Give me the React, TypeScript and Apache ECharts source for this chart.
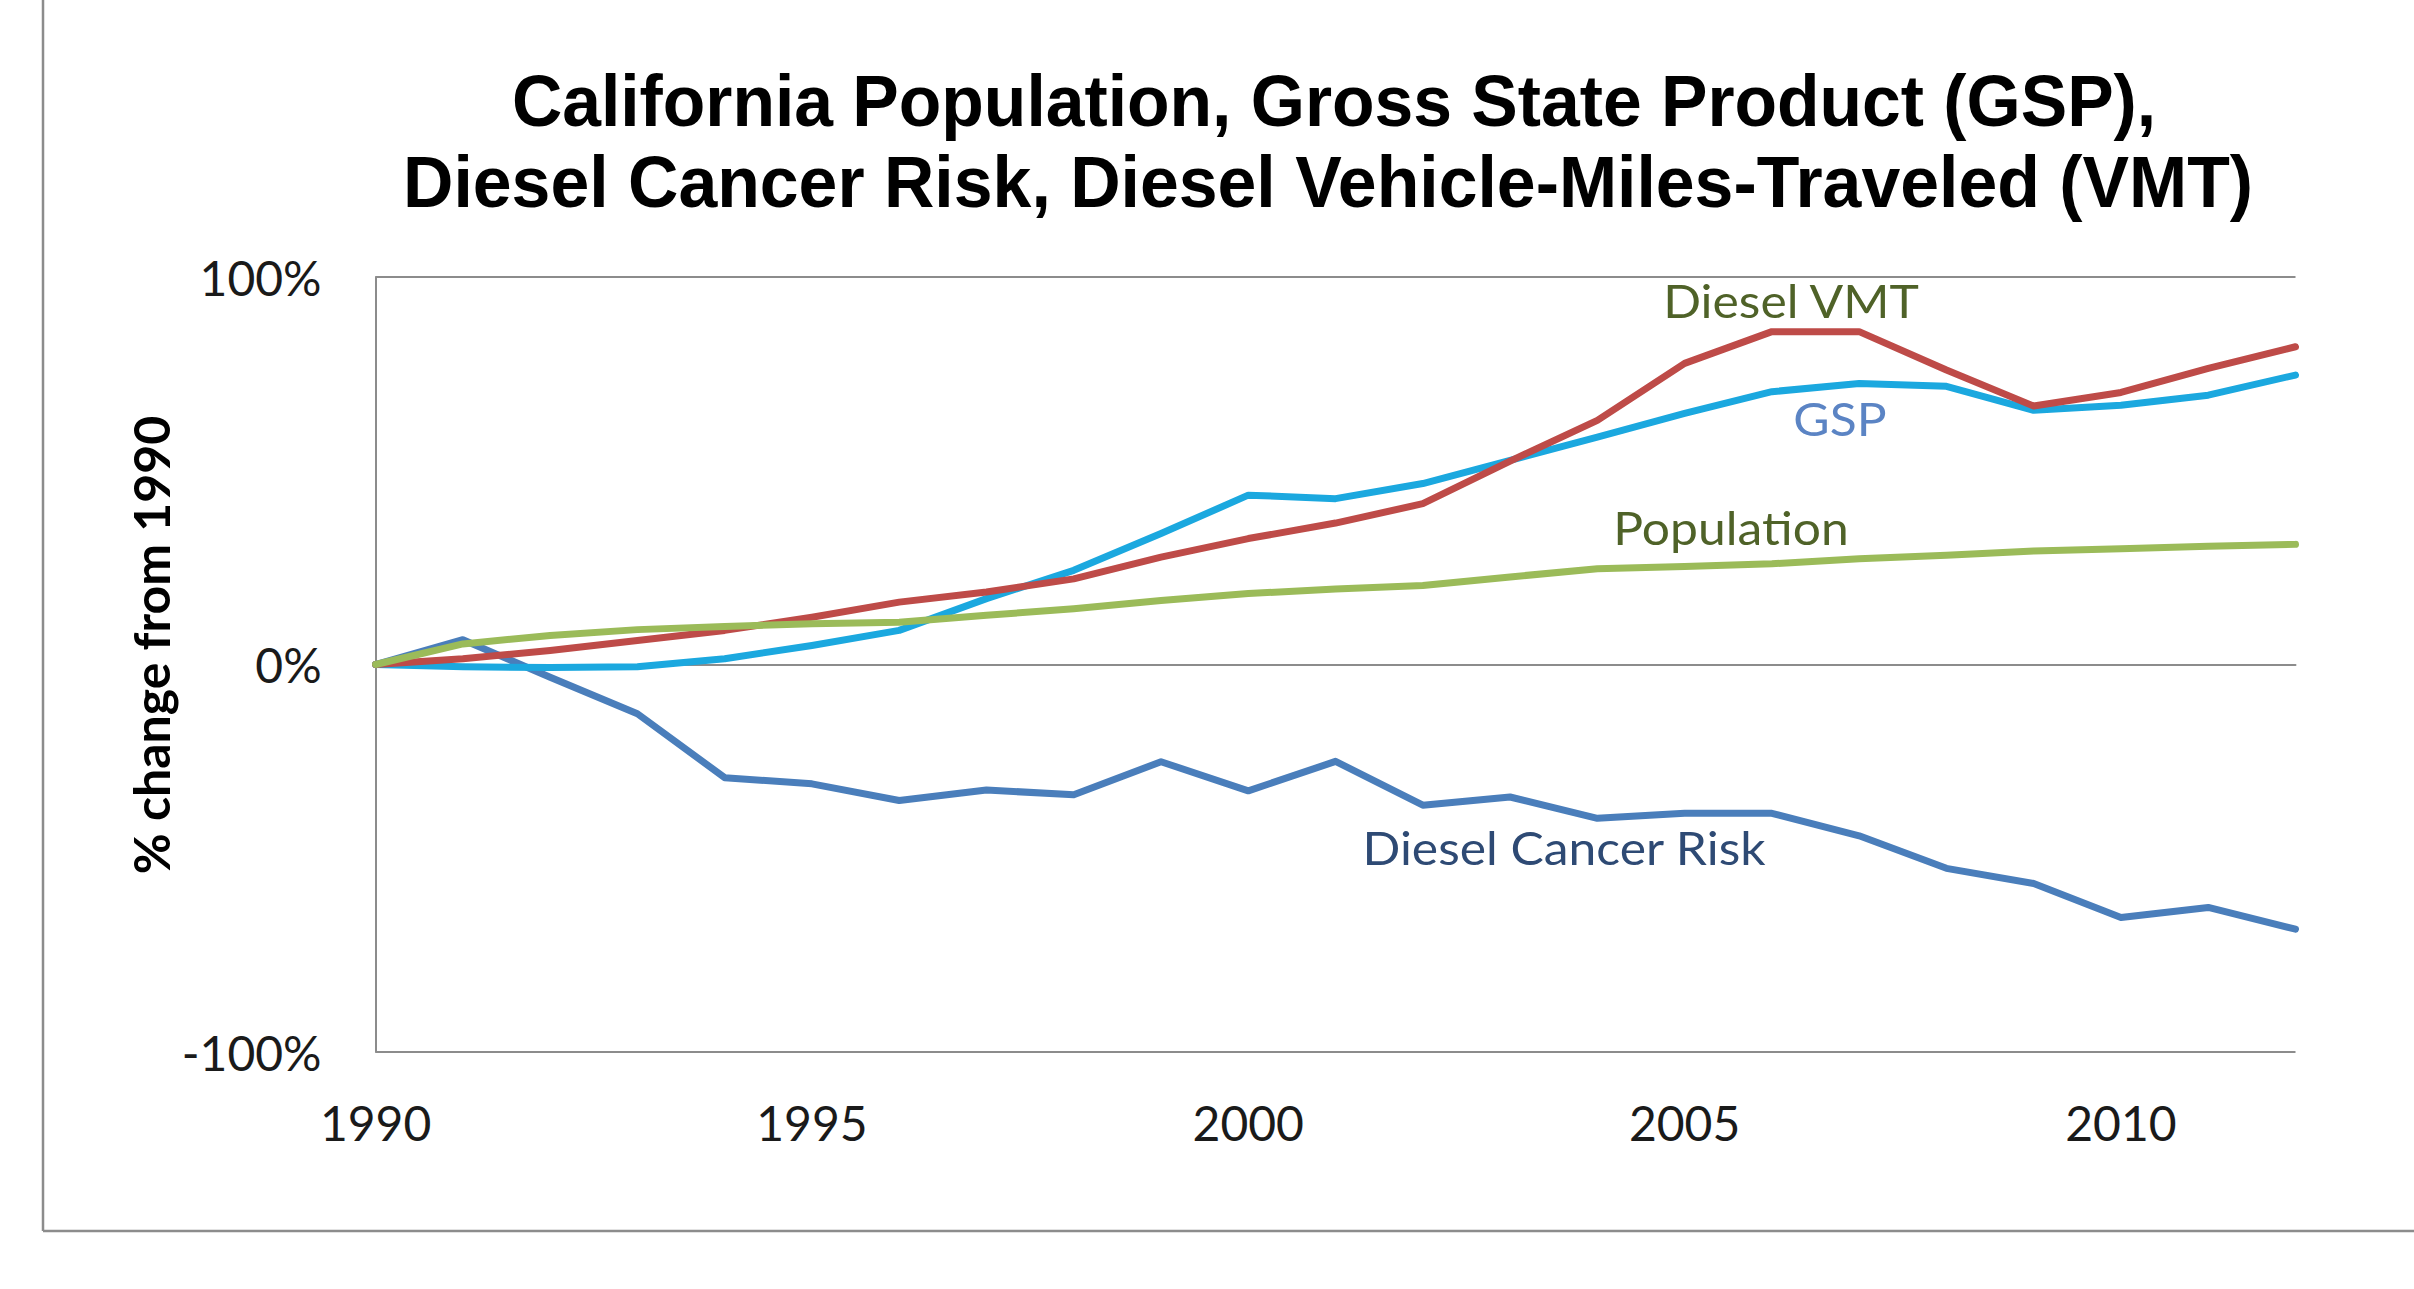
import React, { useEffect, useRef } from "react";
import * as echarts from "echarts";

const years = [1990, 1991, 1992, 1993, 1994, 1995, 1996, 1997, 1998, 1999, 2000, 2001, 2002, 2003, 2004, 2005, 2006, 2007, 2008, 2009, 2010, 2011, 2012];
const cancerRisk = [0, 6.4, -3.3, -12.7, -29.2, -30.8, -35.1, -32.4, -33.6, -25.1, -32.6, -25.0, -36.3, -34.2, -39.7, -38.4, -38.4, -44.2, -52.6, -56.5, -65.3, -62.7, -68.3];
const gsp = [0, -0.6, -0.8, -0.6, 1.5, 4.9, 8.8, 17.0, 24.3, 33.8, 43.7, 42.8, 46.7, 52.7, 58.7, 64.8, 70.4, 72.5, 71.8, 65.6, 66.9, 69.5, 74.7];
const dieselVmt = [0, 1.5, 3.6, 6.2, 8.8, 12.2, 16.1, 18.7, 22.1, 27.7, 32.5, 36.5, 41.5, 52.5, 63.0, 77.7, 85.9, 85.9, 76.0, 66.7, 70.2, 76.4, 82.0];
const population = [0, 5.3, 7.5, 9.0, 9.8, 10.5, 10.9, 12.7, 14.4, 16.5, 18.3, 19.5, 20.4, 22.6, 24.7, 25.3, 26.0, 27.3, 28.2, 29.3, 29.9, 30.5, 31.0];

const titleLines = [
  "California Population, Gross State Product (GSP),",
  "Diesel Cancer Risk, Diesel Vehicle-Miles-Traveled (VMT)",
];
const yAxisTitle = "% change from 1990";
const seriesNames = ["Diesel Cancer Risk", "GSP", "Diesel VMT", "Population"];
const seriesColors = ["#4A7EBB", "#1BA8DF", "#BE4B48", "#9BBB59"];

const W = 2414;
const H = 1289;
const SANS = "Lato, 'Open Sans', 'DejaVu Sans', sans-serif";
const TITLE_FONT = "'Liberation Sans', Arial, sans-serif";
const AXIS_GRAY = "#8C8C8C";

function pairs(vals: number[]) {
  return years.map((y, i) => [y, vals[i]]);
}

export default function App() {
  const ref = useRef<HTMLDivElement>(null);

  useEffect(() => {
    if (!ref.current) return;
    const chart = echarts.init(ref.current, null, { renderer: "svg", width: W, height: H });
    const seriesData = [cancerRisk, gsp, dieselVmt, population];
    const option: any = {
      animation: false,
      backgroundColor: "#ffffff",
      grid: {
        left: 375.6,
        right: W - 2295.5,
        top: 277,
        bottom: H - 1052,
        containLabel: false,
        outerBoundsMode: "none",
      },
      xAxis: {
        type: "value",
        min: 1990,
        max: 2012,
        interval: 5,
        axisLine: { show: true, lineStyle: { color: AXIS_GRAY, width: 2 } },
        axisTick: { show: false },
        splitLine: { show: false },
        axisLabel: {
          showMaxLabel: false,
          margin: 46,
          fontSize: 48,
          fontFamily: SANS,
          color: "#1a1a1a",
          formatter: (v: number) => String(v),
        },
      },
      yAxis: {
        type: "value",
        min: -100,
        max: 100,
        interval: 100,
        axisLine: { show: true, lineStyle: { color: AXIS_GRAY, width: 2 } },
        axisTick: { show: false },
        splitLine: { show: true, lineStyle: { color: AXIS_GRAY, width: 2 } },
        axisLabel: {
          margin: 54,
          fontSize: 48,
          fontFamily: SANS,
          color: "#1a1a1a",
          formatter: (v: number) => v + "%",
        },
      },
      series: seriesNames.map((name, i) => ({
        name,
        type: "line",
        data: pairs(seriesData[i]),
        symbol: "none",
        lineStyle: { color: seriesColors[i], width: 7, cap: "round", join: "round" },
        z: 2 + i,
      })),
      graphic: [
        { type: "line", shape: { x1: 43, y1: -5, x2: 43, y2: 1231 }, style: { stroke: AXIS_GRAY, lineWidth: 2.5 } },
        { type: "line", shape: { x1: 43, y1: 1231, x2: W + 5, y2: 1231 }, style: { stroke: AXIS_GRAY, lineWidth: 2.5 } },
        {
          type: "text", x: 1334, y: 100, scaleX: 0.954,
          style: { text: titleLines[0], fontSize: 73, fontWeight: "bold", fontFamily: TITLE_FONT, fill: "#000", align: "center", verticalAlign: "middle" },
        },
        {
          type: "text", x: 1328, y: 181, scaleX: 0.956,
          style: { text: titleLines[1], fontSize: 73, fontWeight: "bold", fontFamily: TITLE_FONT, fill: "#000", align: "center", verticalAlign: "middle" },
        },
        {
          type: "text", x: 151, y: 645, rotation: Math.PI / 2,
          style: { text: yAxisTitle, fontSize: 50, fontWeight: "bold", fontFamily: SANS, fill: "#000", align: "center", verticalAlign: "middle" },
        },
        {
          type: "text", x: 1791, y: 300, scaleX: 1.06,
          style: { text: "Diesel VMT", fontSize: 47, fontFamily: SANS, fill: "#4F6228", align: "center", verticalAlign: "middle" },
        },
        {
          type: "text", x: 1840, y: 418, scaleX: 1.06,
          style: { text: "GSP", fontSize: 47, fontFamily: SANS, fill: "#5B84C4", align: "center", verticalAlign: "middle" },
        },
        {
          type: "text", x: 1731, y: 527, scaleX: 1.06,
          style: { text: "Population", fontSize: 47, fontFamily: SANS, fill: "#4F6228", align: "center", verticalAlign: "middle" },
        },
        {
          type: "text", x: 1564, y: 847, scaleX: 1.06,
          style: { text: "Diesel Cancer Risk", fontSize: 47, fontFamily: SANS, fill: "#2E4A74", align: "center", verticalAlign: "middle" },
        },
      ],
    };
    chart.setOption(option);
    return () => chart.dispose();
  }, []);

  return (
    <div
      ref={ref}
      style={{ position: "fixed", left: 0, top: 0, width: W, height: H, background: "#fff" }}
    />
  );
}
